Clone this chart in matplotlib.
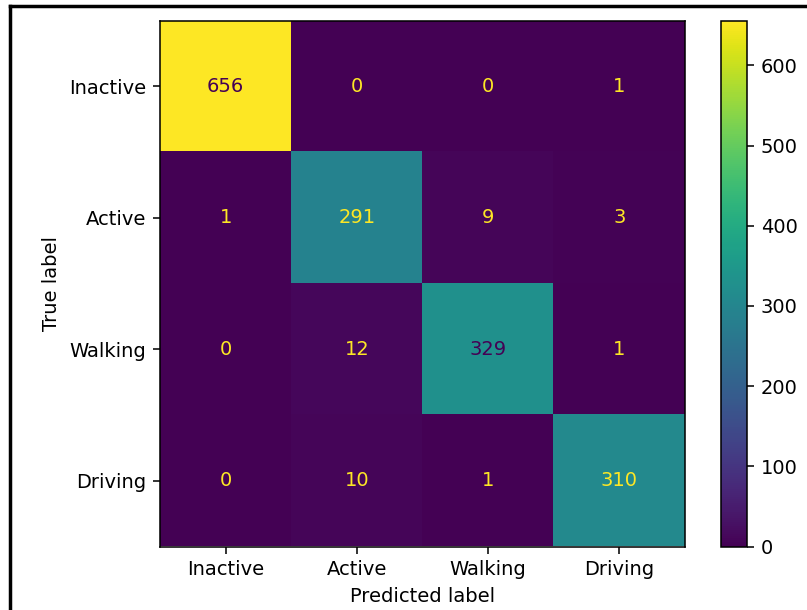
import numpy as np
import matplotlib
matplotlib.use('Agg')
import matplotlib.pyplot as plt

labels = ['Inactive', 'Active', 'Walking', 'Driving']
cm = np.array([[656, 0, 0, 1],
               [1, 291, 9, 3],
               [0, 12, 329, 1],
               [0, 10, 1, 310]])

# the screenshot looks like a ~1.4x upscaled default figure
s = 1.4
plt.rcParams['font.size'] = 10 * s
plt.rcParams['axes.linewidth'] = 0.8 * s
plt.rcParams['xtick.major.size'] = 3.5 * s
plt.rcParams['ytick.major.size'] = 3.5 * s
plt.rcParams['xtick.major.width'] = 0.8 * s
plt.rcParams['ytick.major.width'] = 0.8 * s
plt.rcParams['xtick.major.pad'] = 3.5 * s
plt.rcParams['ytick.major.pad'] = 3.5 * s
plt.rcParams['axes.labelpad'] = 4 * s

fig = plt.figure(figsize=(8.07, 6.10), dpi=100)
ax = fig.add_axes([160 / 807, 1 - 546.5 / 610, 525 / 807, 526 / 610])
cax = fig.add_axes([721 / 807, 1 - 546.5 / 610, 26 / 807, 526 / 610])

cmap = plt.get_cmap('viridis')
im = ax.imshow(cm, interpolation='nearest', cmap=cmap, aspect='auto')
fig.colorbar(im, cax=cax)

thresh = (cm.max() + cm.min()) / 2.0
cmap_min, cmap_max = cmap(0), cmap(1.0)
for i in range(cm.shape[0]):
    for j in range(cm.shape[1]):
        color = cmap_max if cm[i, j] < thresh else cmap_min
        ax.text(j, i, format(cm[i, j], 'd'), ha='center', va='center', color=color)

ax.set_xticks(np.arange(len(labels)))
ax.set_yticks(np.arange(len(labels)))
ax.set_xticklabels(labels)
ax.set_yticklabels(labels)
ax.set_xlabel('Predicted label')
ax.set_ylabel('True label')
ax.set_ylim(len(labels) - 0.5, -0.5)

# frame around screenshot (left and top edges only)
fig.add_artist(plt.Line2D([9.5 / 807, 9.5 / 807], [0, 1 - 5.5 / 610], transform=fig.transFigure, color='black', lw=2.5))
fig.add_artist(plt.Line2D([9.5 / 807, 1], [1 - 5.5 / 610, 1 - 5.5 / 610], transform=fig.transFigure, color='black', lw=2.5))

fig.savefig('out.png', dpi=100)
